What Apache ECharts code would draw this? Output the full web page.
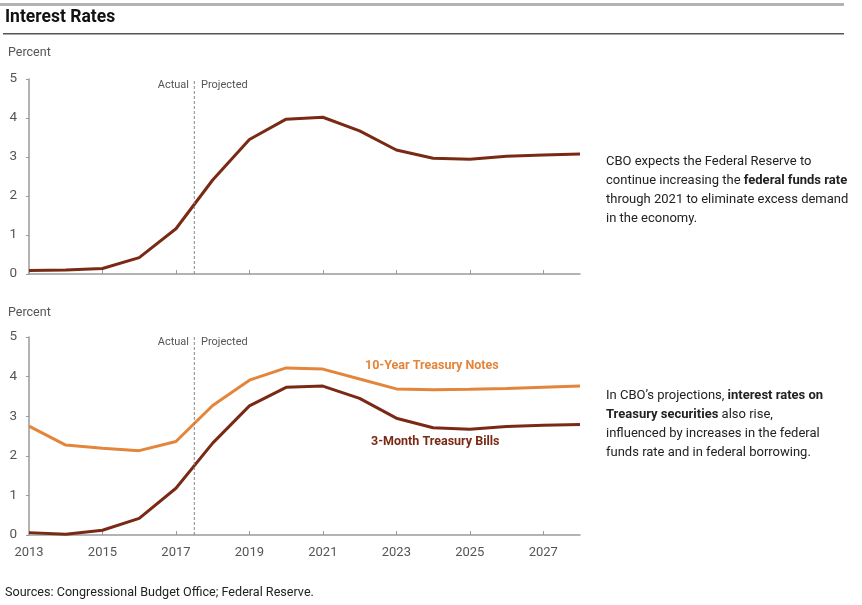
<!DOCTYPE html>
<html>
<head>
<meta charset="utf-8">
<script src="https://cdn.jsdelivr.net/npm/echarts@6/dist/echarts.min.js"></script>
<style>
  html, body { margin: 0; padding: 0; background: #fff; }
  #chart { width: 862px; height: 605px; }
</style>
</head>
<body>
<div id="chart"></div>
<script>
// 数据
const years = ['2013', '2014', '2015', '2016', '2017', '2018', '2019', '2020',
               '2021', '2022', '2023', '2024', '2025', '2026', '2027', '2028'];
const fedFunds = [0.09, 0.1, 0.14, 0.42, 1.16, 2.41, 3.45, 3.97, 4.02, 3.67, 3.18, 2.97, 2.94, 3.02, 3.05, 3.08];
const tenYear = [2.75, 2.27, 2.19, 2.13, 2.36, 3.27, 3.91, 4.22, 4.19, 3.94, 3.69, 3.67, 3.68, 3.70, 3.73, 3.76];
const threeMonth = [0.06, 0.02, 0.12, 0.42, 1.18, 2.32, 3.26, 3.73, 3.76, 3.45, 2.95, 2.71, 2.67, 2.74, 2.77, 2.79];
const dividerIndex = 4.5; // 2017 年中: Actual / Projected

const FONT = '"Roboto", "Liberation Sans", sans-serif';
const DARK = '#7a2a14';
const ORANGE = '#e3853b';
const GRAY = '#555';

const chart = echarts.init(document.getElementById('chart'));

function catAxis(gridIndex, showLabel) {
    return {
        type: 'category',
        gridIndex: gridIndex,
        data: years,
        boundaryGap: false,
        axisLine: { lineStyle: { color: '#9a9a9a', width: 1.5 } },
        axisTick: {
            inside: true, length: 4,
            interval: (i) => i % 2 === 0,
            lineStyle: { color: '#9a9a9a' }
        },
        axisLabel: {
            show: showLabel,
            interval: (i) => i % 2 === 0,
            color: GRAY, fontFamily: FONT, fontSize: 13, margin: 11
        },
        splitLine: { show: false }
    };
}

function hiddenAxis(gridIndex) {
    return { type: 'value', gridIndex: gridIndex, min: 0, max: years.length - 1, show: false };
}

function valAxis(gridIndex) {
    return {
        type: 'value', gridIndex: gridIndex, min: 0, max: 5, interval: 1,
        axisLine: { show: true, lineStyle: { color: '#9a9a9a', width: 1.5 } },
        axisTick: { show: true, length: 3, lineStyle: { color: '#9a9a9a' } },
        axisLabel: { color: GRAY, fontFamily: FONT, fontSize: 13.5, margin: 12 },
        splitLine: { show: false }
    };
}

function lineSeries(x, y, data, color) {
    return {
        type: 'line', xAxisIndex: x, yAxisIndex: y, data: data,
        symbol: 'none', silent: true,
        lineStyle: { color: color, width: 3 }
    };
}

function divider(x, y) {
    return {
        type: 'line', xAxisIndex: x, yAxisIndex: y,
        data: [[dividerIndex, 0], [dividerIndex, 5]],
        symbol: 'none', silent: true,
        lineStyle: { color: '#888', width: 1, type: [3, 2] }
    };
}

function splitText(top) {
    return [
        { type: 'text', right: 862 - 189, top: top,
          style: { text: 'Actual', fill: GRAY, font: '11px ' + FONT } },
        { type: 'text', left: 201, top: top,
          style: { text: 'Projected', fill: GRAY, font: '11px ' + FONT } }
    ];
}

const bodyRich = { b: { fontWeight: 'bold', fontSize: 13, fontFamily: FONT, fill: '#222' } };

chart.setOption({
    animation: false,
    grid: [
        { left: 29, top: 79, width: 551, height: 195 },
        { left: 29, top: 337, width: 551, height: 198 }
    ],
    xAxis: [catAxis(0, false), catAxis(1, true), hiddenAxis(0), hiddenAxis(1)],
    yAxis: [valAxis(0), valAxis(1)],
    series: [
        lineSeries(0, 0, fedFunds, DARK),
        lineSeries(1, 1, tenYear, ORANGE),
        lineSeries(1, 1, threeMonth, DARK),
        divider(2, 0),
        divider(3, 1)
    ],
    graphic: [
        // 顶部装饰线
        { type: 'rect', shape: { x: 0, y: 3, width: 844, height: 3 }, style: { fill: '#b3b3b3' } },
        { type: 'rect', shape: { x: 3, y: 33, width: 841, height: 1.5 }, style: { fill: '#555' } },
        { type: 'text', left: 5, top: 9,
          style: { text: 'Interest Rates', fill: '#111', font: 'bold 17.5px ' + FONT } },
        { type: 'text', left: 8, top: 46,
          style: { text: 'Percent', fill: GRAY, font: '12.5px ' + FONT } },
        { type: 'text', left: 8, top: 306,
          style: { text: 'Percent', fill: GRAY, font: '12.5px ' + FONT } },
        ...splitText(80),
        ...splitText(337),
        { type: 'text', left: 365, top: 359,
          style: { text: '10-Year Treasury Notes', fill: ORANGE, font: 'bold 12.5px ' + FONT } },
        { type: 'text', left: 371, top: 435,
          style: { text: '3-Month Treasury Bills', fill: DARK, font: 'bold 12.5px ' + FONT } },
        { type: 'text', left: 606, top: 152,
          style: {
              text: 'CBO expects the Federal Reserve to\ncontinue increasing the {b|federal funds rate}\nthrough 2021 to eliminate excess demand\nin the economy.',
              fill: '#222', font: '13px ' + FONT, lineHeight: 19, rich: bodyRich
          } },
        { type: 'text', left: 606, top: 386,
          style: {
              text: 'In CBO\u2019s projections, {b|interest rates on}\n{b|Treasury securities} also rise,\ninfluenced by increases in the federal\nfunds rate and in federal borrowing.',
              fill: '#222', font: '13px ' + FONT, lineHeight: 19, rich: bodyRich
          } },
        { type: 'text', left: 5, top: 586,
          style: { text: 'Sources: Congressional Budget Office; Federal Reserve.', fill: '#222', font: '12.6px ' + FONT } }
    ]
});
</script>
</body>
</html>
